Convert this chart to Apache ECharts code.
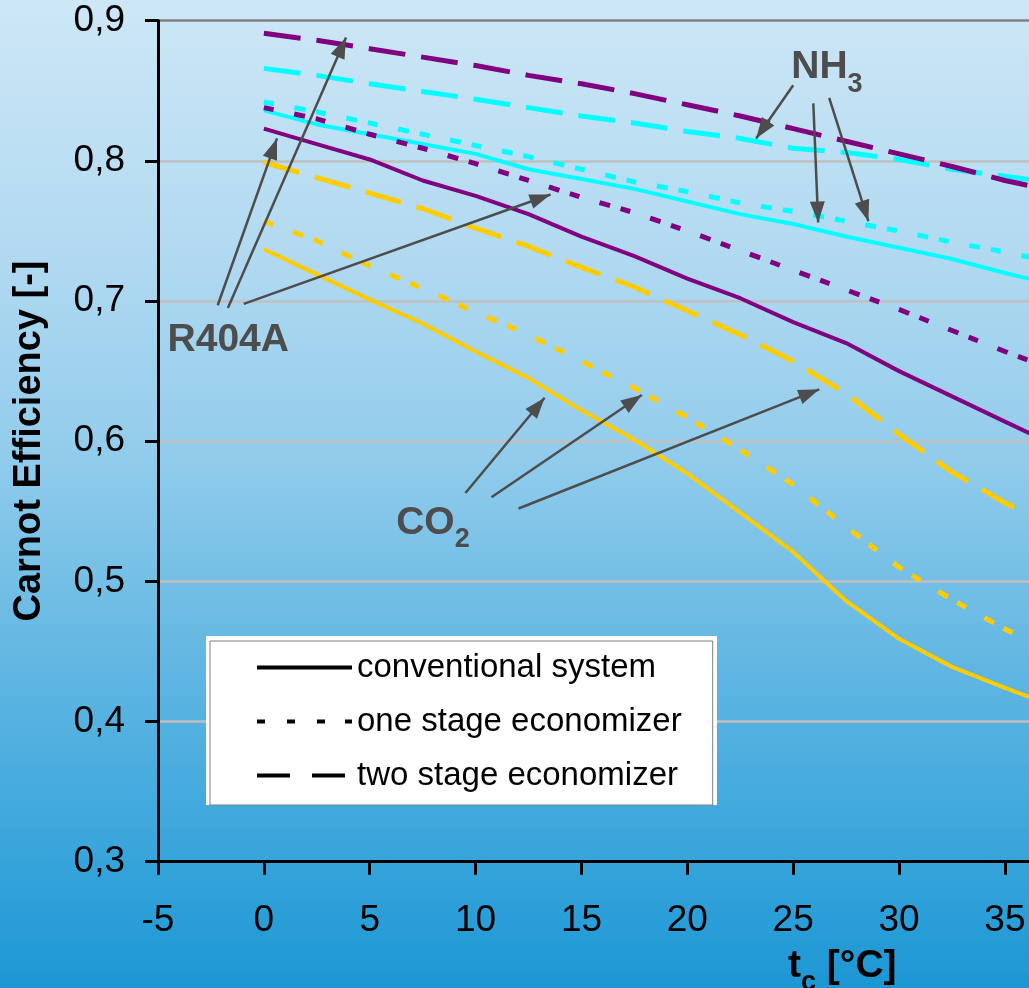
<!DOCTYPE html>
<html>
<head>
<meta charset="utf-8">
<script src="https://cdn.jsdelivr.net/npm/echarts@6/dist/echarts.min.js"></script>
<style>html,body{margin:0;padding:0;background:#fff;}#c{width:1029px;height:988px;}</style>
</head>
<body>
<div id="c"></div>
<script>
// ---- data ----
const xValues = [0, 2.5, 5, 7.5, 10, 12.5, 15, 17.5, 20, 22.5, 25, 27.5, 30, 32.5, 35, 37.5];
const nh3Conventional = [0.836,0.826,0.819,0.812,0.805,0.794,0.787,0.780,0.771,0.762,0.755,0.746,0.738,0.730,0.720,0.711];
const nh3OneStage     = [0.842,0.835,0.827,0.819,0.811,0.803,0.794,0.785,0.778,0.770,0.764,0.757,0.750,0.742,0.735,0.727];
const nh3TwoStage     = [0.866,0.861,0.855,0.8495,0.844,0.838,0.832,0.827,0.821,0.816,0.809,0.806,0.801,0.794,0.789,0.784];
const r404aConventional = [0.823,0.812,0.801,0.786,0.775,0.762,0.746,0.732,0.716,0.702,0.685,0.670,0.650,0.632,0.614,0.596];
const r404aOneStage     = [0.838,0.830,0.819,0.809,0.798,0.786,0.774,0.763,0.750,0.736,0.722,0.708,0.694,0.679,0.664,0.650];
const r404aTwoStage     = [0.891,0.886,0.880,0.874,0.868,0.861,0.855,0.848,0.840,0.832,0.823,0.814,0.805,0.796,0.786,0.778];
const co2Conventional = [0.737,0.719,0.701,0.684,0.664,0.645,0.622,0.601,0.577,0.549,0.521,0.486,0.459,0.439,0.424,0.410];
const co2OneStage     = [0.757,0.743,0.725,0.709,0.692,0.676,0.657,0.638,0.617,0.594,0.569,0.539,0.510,0.487,0.466,0.448];
const co2TwoStage     = [0.799,0.788,0.777,0.766,0.752,0.739,0.724,0.710,0.693,0.676,0.657,0.634,0.605,0.578,0.556,0.538];
const legendNames = ['conventional system', 'one stage economizer', 'two stage economizer'];
// annotation arrows in data coordinates [from, to]
const arrowLines = [
  [[-2.18, 0.697], [0.62, 0.816]],
  [[-1.70, 0.695], [3.88, 0.888]],
  [[-0.95, 0.698], [13.54, 0.776]],
  [[25.00, 0.854], [23.25, 0.816]],
  [[25.95, 0.841], [26.18, 0.756]],
  [[26.70, 0.845], [28.55, 0.757]],
  [[9.52, 0.563], [13.26, 0.631]],
  [[10.75, 0.560], [17.85, 0.633]],
  [[12.03, 0.552], [26.23, 0.637]]
];
// annotation label anchors (top-left) in data coordinates
const annotationLabels = [
  {main: 'NH', sub: '3', at: [24.91, 0.8807]},
  {main: 'R404A', sub: '', at: [-4.55, 0.6857]},
  {main: 'CO', sub: '2', at: [6.25, 0.5557]}
];

const FONT = "'Liberation Sans', Arial, sans-serif";
const CYAN = '#00ffff', PURPLE = '#800080', GOLD = '#ffcc00', ARROW = '#4d4d4d';
const styles = {
  conv: {type: 'solid', width: 4},
  one: {type: [10, 21, 11, 11], width: 5},
  two: {type: [37, 16], width: 5}
};
const seriesDefs = [
  ['NH3 conventional', nh3Conventional, CYAN, 'conv'],
  ['NH3 one stage', nh3OneStage, CYAN, 'one'],
  ['NH3 two stage', nh3TwoStage, CYAN, 'two'],
  ['R404A conventional', r404aConventional, PURPLE, 'conv'],
  ['R404A one stage', r404aOneStage, PURPLE, 'one'],
  ['R404A two stage', r404aTwoStage, PURPLE, 'two'],
  ['CO2 conventional', co2Conventional, GOLD, 'conv'],
  ['CO2 one stage', co2OneStage, GOLD, 'one'],
  ['CO2 two stage', co2TwoStage, GOLD, 'two']
];

const chart = echarts.init(document.getElementById('c'), null, {renderer: 'canvas'});

const series = seriesDefs.map(([name, ys, color, kind]) => ({
  name, type: 'line', data: xValues.map((x, i) => [x, ys[i]]),
  symbol: 'none', smooth: false, color,
  lineStyle: {color, width: styles[kind].width, type: styles[kind].type, cap: 'butt', join: 'round'},
  emphasis: {disabled: true}, silent: true, z: 2
}));
legendNames.forEach(n => series.push({name: n, type: 'line', data: [], color: '#000', symbol: 'none'}));
series.push({
  name: 'arrows', type: 'line', data: [], color: ARROW, symbol: 'none',
  markLine: {
    silent: true, animation: false,
    symbol: ['none', 'none'],
    label: {show: false},
    emphasis: {disabled: true},
    lineStyle: {color: ARROW, width: 2.5, type: 'solid'},
    data: arrowLines.map(([a, b]) => [{coord: a}, {coord: b}])
  }
});

const axisBlack = {color: '#000', width: 3};
chart.setOption({
  animation: false,
  backgroundColor: {
    type: 'linear', x: 0, y: 0, x2: 0, y2: 1,
    colorStops: [
      {offset: 0, color: '#cde7f6'},
      {offset: 0.25, color: '#b2daf1'},
      {offset: 0.45, color: '#94cdec'},
      {offset: 0.65, color: '#66b9e3'},
      {offset: 0.85, color: '#3ba6dc'},
      {offset: 1, color: '#1c97d4'}
    ]
  },
  grid: {left: 158, top: 20.7, bottom: 126.3, right: -81.8, containLabel: false, outerBoundsMode: 'none'},
  xAxis: {
    type: 'value', min: -5, max: 40, interval: 5,
    axisLine: {show: true, onZero: false, lineStyle: axisBlack},
    axisTick: {show: true, length: 13, lineStyle: axisBlack},
    axisLabel: {fontSize: 37, color: '#000', fontFamily: FONT, margin: 41},
    splitLine: {show: false}
  },
  yAxis: {
    type: 'value', min: 0.3, max: 0.9, interval: 0.1,
    axisLine: {show: true, onZero: false, lineStyle: axisBlack},
    axisTick: {show: true, length: 13, lineStyle: axisBlack},
    axisLabel: {fontSize: 37, color: '#000', fontFamily: FONT, margin: 33,
      formatter: v => v.toFixed(1).replace('.', ',')},
    splitLine: {show: true, lineStyle: {width: 2.5,
      color: ['#c0c0c0', '#c0c0c0', '#c0c0c0', '#c0c0c0', '#c0c0c0', '#c0c0c0', '#808080']}}
  },
  legend: {
    orient: 'vertical', left: 210, top: 641,
    itemWidth: 95, itemHeight: 4, itemGap: 21,
    padding: [10, 31, 13, 47],
    backgroundColor: '#fff', borderColor: '#808080', borderWidth: 1,
    selectedMode: false, z: 10,
    textStyle: {fontSize: 33, color: '#000', fontFamily: FONT, lineHeight: 32},
    data: [
      {name: legendNames[0], icon: 'path://M0,0H95V4H0Z'},
      {name: legendNames[1], icon: 'path://M0,0H8V4H0Z M30,0H38V4H30Z M60,0H68V4H60Z M88,0H95V4H88Z'},
      {name: legendNames[2], icon: 'path://M0,0H33V4H0Z M55,0H88V4H55Z M94.9,0H95V0.01H94.9Z'}
    ]
  },
  series
});

function richStyle(fill) {
  return {
    m: {fontSize: 39, fontWeight: 'bold', fontFamily: FONT, fill, lineHeight: 44, verticalAlign: 'top'},
    s: {fontSize: 27, fontWeight: 'bold', fontFamily: FONT, fill, lineHeight: 27, verticalAlign: 'top', padding: [23, 0, 0, 0]}
  };
}
function richText(main, sub, rest) {
  let t = '{m|' + main + '}';
  if (sub) t += '{s|' + sub + '}';
  if (rest) t += '{m|' + rest + '}';
  return t;
}

const graphics = [
  {type: 'rect', id: 'legendBack', shape: {x: 206, y: 636, width: 511, height: 169}, style: {fill: '#fff'}, z: 5, silent: true},
  {type: 'text', id: 'yTitle', x: 30, y: 441, rotation: Math.PI / 2, silent: true, z: 20,
    style: {text: 'Carnot Efficiency [-]', fill: '#000', font: 'bold 38px ' + FONT, align: 'center', verticalAlign: 'middle'}},
  {type: 'text', id: 'xTitle', x: 788, y: 946.5, silent: true, z: 20,
    style: {text: richText('t', 'c', ' [°C]'), rich: richStyle('#000'), align: 'left', verticalAlign: 'top'}}
];
annotationLabels.forEach((a, i) => {
  const p = chart.convertToPixel({gridIndex: 0}, a.at);
  graphics.push({type: 'text', id: 'ann' + i, x: p[0], y: p[1], silent: true, z: 20,
    style: {text: richText(a.main, a.sub, ''), rich: richStyle(ARROW), align: 'left', verticalAlign: 'top'}});
});
// arrow heads: filled triangles oriented along each annotation line (positions via the axes' scales)
arrowLines.forEach(([a, b], i) => {
  const p0 = chart.convertToPixel({gridIndex: 0}, a);
  const p1 = chart.convertToPixel({gridIndex: 0}, b);
  const dx = p1[0] - p0[0], dy = p1[1] - p0[1];
  const len = Math.hypot(dx, dy), ux = dx / len, uy = dy / len;
  const L = 21, W = 7.5;
  const bx = p1[0] - ux * L, by = p1[1] - uy * L;
  graphics.push({type: 'polygon', id: 'head' + i, silent: true, z: 19,
    shape: {points: [[p1[0], p1[1]], [bx - uy * W, by + ux * W], [bx + uy * W, by - ux * W]]},
    style: {fill: ARROW}});
});
chart.setOption({graphic: graphics});
</script>
</body>
</html>
